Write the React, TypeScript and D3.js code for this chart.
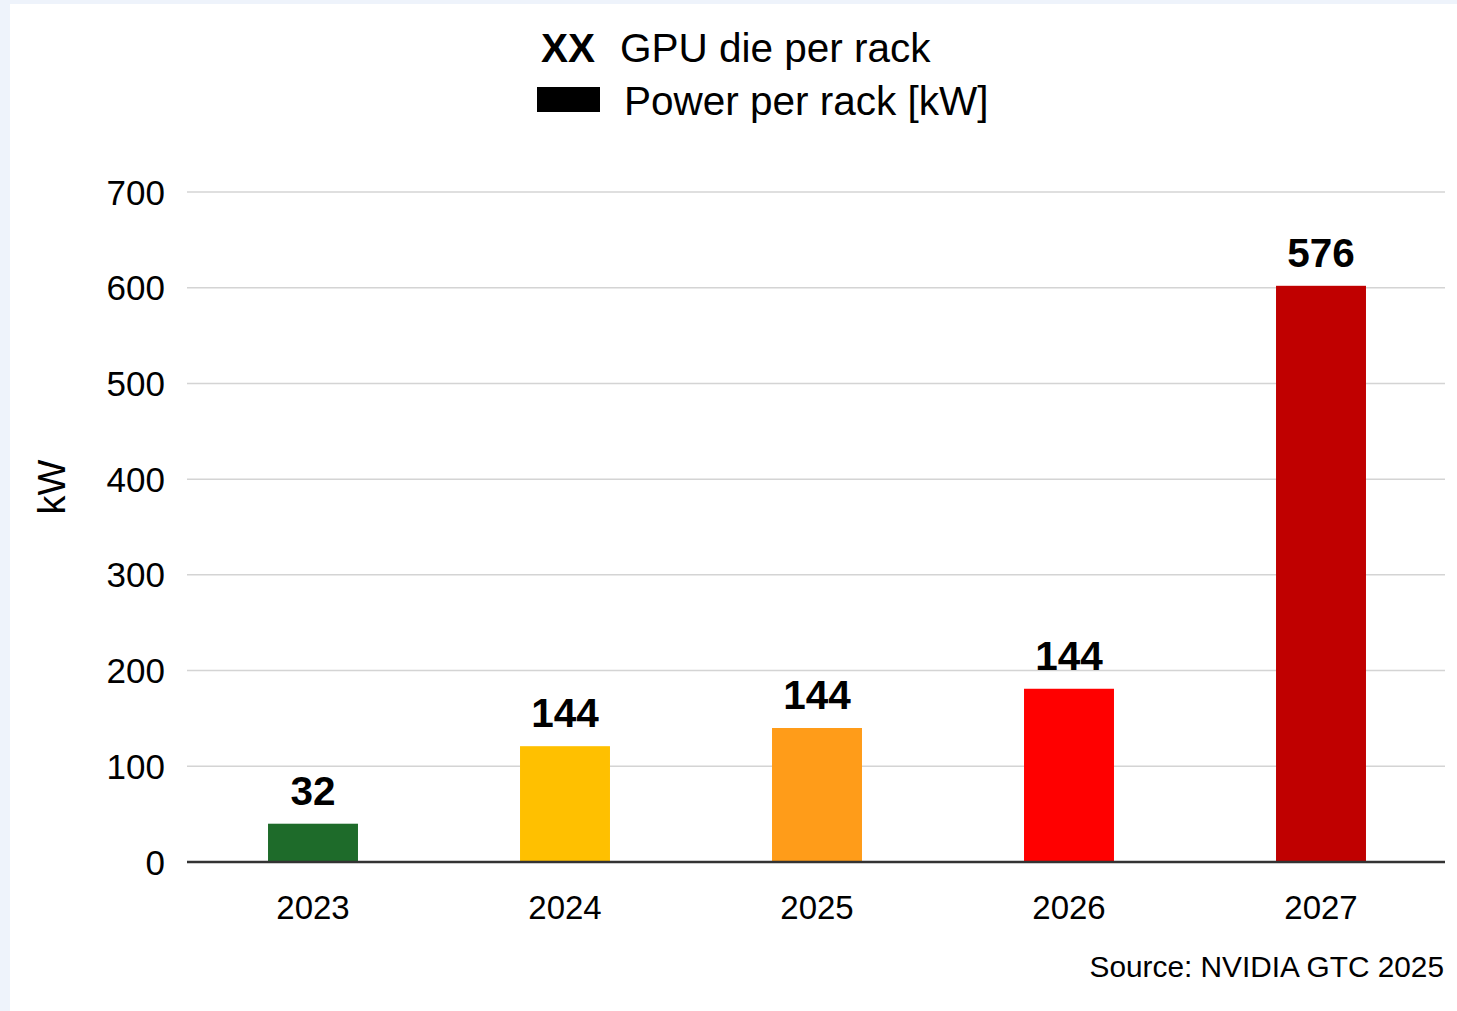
import React from "react";
import * as d3 from "d3";

const years = ["2023", "2024", "2025", "2026", "2027"];
const powerKW = [40, 121, 140, 181, 602];
const gpuDies = ["32", "144", "144", "144", "576"];
const barColors = ["#1e6b2a", "#ffc000", "#ff9c19", "#ff0000", "#c00000"];
const yTicks = [0, 100, 200, 300, 400, 500, 600, 700];

const W = 1457;
const H = 1011;
const FONT = "Liberation Sans, Arial, Helvetica, sans-serif";

export default function App() {
  const x = d3
    .scaleBand<string>()
    .domain(years)
    .range([187, 1447])
    .paddingInner(0.643)
    .paddingOuter(0.3215);
  const y = d3.scaleLinear().domain([0, 700]).range([862, 192]);

  return (
    <div style={{ position: "absolute", left: 0, top: 0 }}>
      <svg width={W} height={H} style={{ display: "block", fontFamily: FONT }}>
        <rect x={0} y={0} width={W} height={H} fill="#eef3fb" />
        <rect x={10} y={4} width={W - 10} height={H - 4} fill="#ffffff" />

        {/* Legend */}
        <text x={541} y={62} fontSize={40.5} fontWeight="bold" fill="#000">
          XX
        </text>
        <text x={620} y={62} fontSize={40.5} fill="#000">
          GPU die per rack
        </text>
        <rect x={537} y={87} width={63} height={25} fill="#000" />
        <text x={624} y={115} fontSize={40.5} fill="#000">
          Power per rack [kW]
        </text>

        {/* Gridlines */}
        {yTicks.map((t) =>
          t === 0 ? null : (
            <line
              key={"g" + t}
              x1={187}
              x2={1445}
              y1={y(t)}
              y2={y(t)}
              stroke="#d4d4d4"
              strokeWidth={1.5}
            />
          )
        )}

        {/* Y tick labels */}
        {yTicks.map((t) => (
          <text
            key={"yt" + t}
            x={165}
            y={y(t)}
            dy="0.36em"
            textAnchor="end"
            fontSize={35}
            fill="#000"
          >
            {t}
          </text>
        ))}

        {/* Y axis title */}
        <text
          transform={`translate(65,487) rotate(-90)`}
          textAnchor="middle"
          fontSize={38}
          fill="#000"
        >
          kW
        </text>

        {/* Bars */}
        {years.map((yr, i) => (
          <rect
            key={"b" + yr}
            x={x(yr)!}
            y={y(powerKW[i])}
            width={x.bandwidth()}
            height={y(0) - y(powerKW[i])}
            fill={barColors[i]}
          />
        ))}

        {/* Value labels */}
        {years.map((yr, i) => (
          <text
            key={"v" + yr}
            x={x(yr)! + x.bandwidth() / 2}
            y={y(powerKW[i]) - 19}
            textAnchor="middle"
            fontSize={40.5}
            fontWeight="bold"
            fill="#000"
          >
            {gpuDies[i]}
          </text>
        ))}

        {/* Baseline */}
        <line x1={187} x2={1445} y1={y(0)} y2={y(0)} stroke="#333" strokeWidth={2.5} />

        {/* X labels */}
        {years.map((yr) => (
          <text
            key={"x" + yr}
            x={x(yr)! + x.bandwidth() / 2}
            y={919}
            textAnchor="middle"
            fontSize={33}
            fill="#000"
          >
            {yr}
          </text>
        ))}

        {/* Source */}
        <text x={1444} y={977} textAnchor="end" fontSize={29.8} fill="#000">
          Source: NVIDIA GTC 2025
        </text>
      </svg>
    </div>
  );
}
